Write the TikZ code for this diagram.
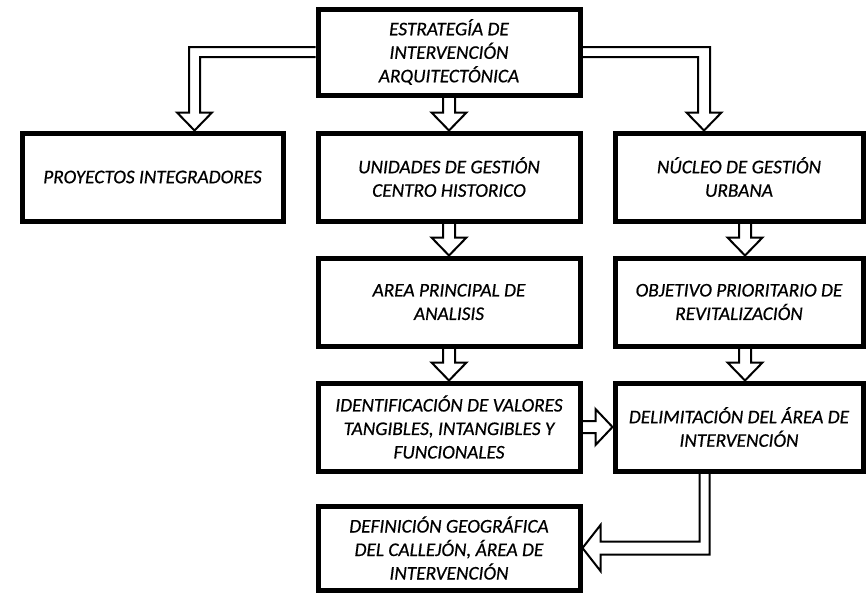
\documentclass[tikz,border=0pt]{standalone}
\usepackage{fontspec}
\setmainfont{Carlito}
\newfontfamily\boxfont{Carlito}[FakeBold=0.6]
\usetikzlibrary{calc}
\pgfdeclarelayer{bg}
\pgfsetlayers{bg,main}
\tikzset{
  box/.style={draw=black, line width=5pt, fill=none, inner sep=0pt, align=center,
    font=\boxfont\fontsize{19.3}{23.5}\selectfont\itshape},
  barrow/.style={draw=black, fill=white, line width=2pt, line join=miter}
}
\begin{document}
\begin{tikzpicture}[x=1pt,y=-1pt]
\useasboundingbox (0,0) rectangle (867,592);
% boxes
\node[box, minimum width=262pt, minimum height=86pt] (top) at (449,52) {ESTRATEGÍA DE\\INTERVENCIÓN\\ARQUITECTÓNICA};
\node[box, minimum width=261pt, minimum height=88pt] (proy) at (152.5,177) {PROYECTOS INTEGRADORES};
\node[box, minimum width=262pt, minimum height=88pt] (unid) at (449,177) {UNIDADES DE GESTIÓN\\CENTRO HISTORICO};
\node[box, minimum width=248pt, minimum height=88pt] (nucl) at (739,177) {NÚCLEO DE GESTIÓN\\URBANA};
\node[box, minimum width=262pt, minimum height=88pt] (area) at (449,302) {AREA PRINCIPAL DE\\ANALISIS};
\node[box, minimum width=248pt, minimum height=88pt] (obj) at (739,302) {OBJETIVO PRIORITARIO DE\\REVITALIZACIÓN};
\node[box, minimum width=262pt, minimum height=88pt] (ident) at (449,427) {IDENTIFICACIÓN DE VALORES\\TANGIBLES, INTANGIBLES Y\\FUNCIONALES};
\node[box, minimum width=248pt, minimum height=88pt] (delim) at (739,427) {DELIMITACIÓN DEL ÁREA DE\\INTERVENCIÓN};
\node[box, minimum width=262pt, minimum height=84pt] (defi) at (449,548) {DEFINICIÓN GEOGRÁFICA\\DEL CALLEJÓN, ÁREA DE\\INTERVENCIÓN};
% arrows
\begin{pgfonlayer}{bg}
% top -> proyectos
\draw[barrow] let \p1=(top.west), \p2=([xshift=42pt]proy.north) in
  (\x1,\y1+5pt) -- (\x2-5.5pt,\y1+5pt) -- (\x2-5.5pt,\y2+18pt) -- (\x2-17.5pt,\y2+18pt)
  -- (\x2,\y2) -- (\x2+17.5pt,\y2+18pt) -- (\x2+5.5pt,\y2+18pt) -- (\x2+5.5pt,\y1-5pt) -- (\x1,\y1-5pt);
% top -> nucleo
\draw[barrow] let \p1=(top.east), \p2=([xshift=-35pt]nucl.north) in
  (\x1,\y1+5pt) -- (\x2+6pt,\y1+5pt) -- (\x2+6pt,\y2+18pt) -- (\x2+17.5pt,\y2+18pt)
  -- (\x2,\y2) -- (\x2-17.5pt,\y2+18pt) -- (\x2-6pt,\y2+18pt) -- (\x2-6pt,\y1-5pt) -- (\x1,\y1-5pt);
% vertical arrows
\foreach \a/\b/\s in {top/unid/0, unid/area/0, area/ident/0, nucl/obj/6, obj/delim/6}{
  \draw[barrow] let \p1=([xshift=\s pt]\a.south), \p2=([xshift=\s pt]\b.north) in
    (\x1-6pt,\y1) -- (\x1-6pt,\y2+18pt) -- (\x1-17.5pt,\y2+18pt) -- (\x1,\y2)
    -- (\x1+17.5pt,\y2+18pt) -- (\x1+6pt,\y2+18pt) -- (\x1+6pt,\y1);
}
% ident -> delim
\draw[barrow] let \p1=(ident.east), \p2=(delim.west) in
  (\x1,\y1+6pt) -- (\x2-17pt,\y1+6pt) -- (\x2-17pt,\y1+18pt) -- (\x2,\y1)
  -- (\x2-17pt,\y1-18pt) -- (\x2-17pt,\y1-6pt) -- (\x1,\y1-6pt);
% delim -> defi
\draw[barrow] let \p1=([xshift=-34.5pt]delim.south), \p2=(defi.east) in
  (\x1-5pt,\y1) -- (\x1-5pt,\y2+6.5pt) -- (\x2+18pt,\y2+6.5pt) -- (\x2+18pt,\y2+23pt)
  -- (\x2,\y2) -- (\x2+18pt,\y2-23pt) -- (\x2+18pt,\y2-6.5pt) -- (\x1+5pt,\y2-6.5pt) -- (\x1+5pt,\y1);
\end{pgfonlayer}
\end{tikzpicture}
\end{document}
